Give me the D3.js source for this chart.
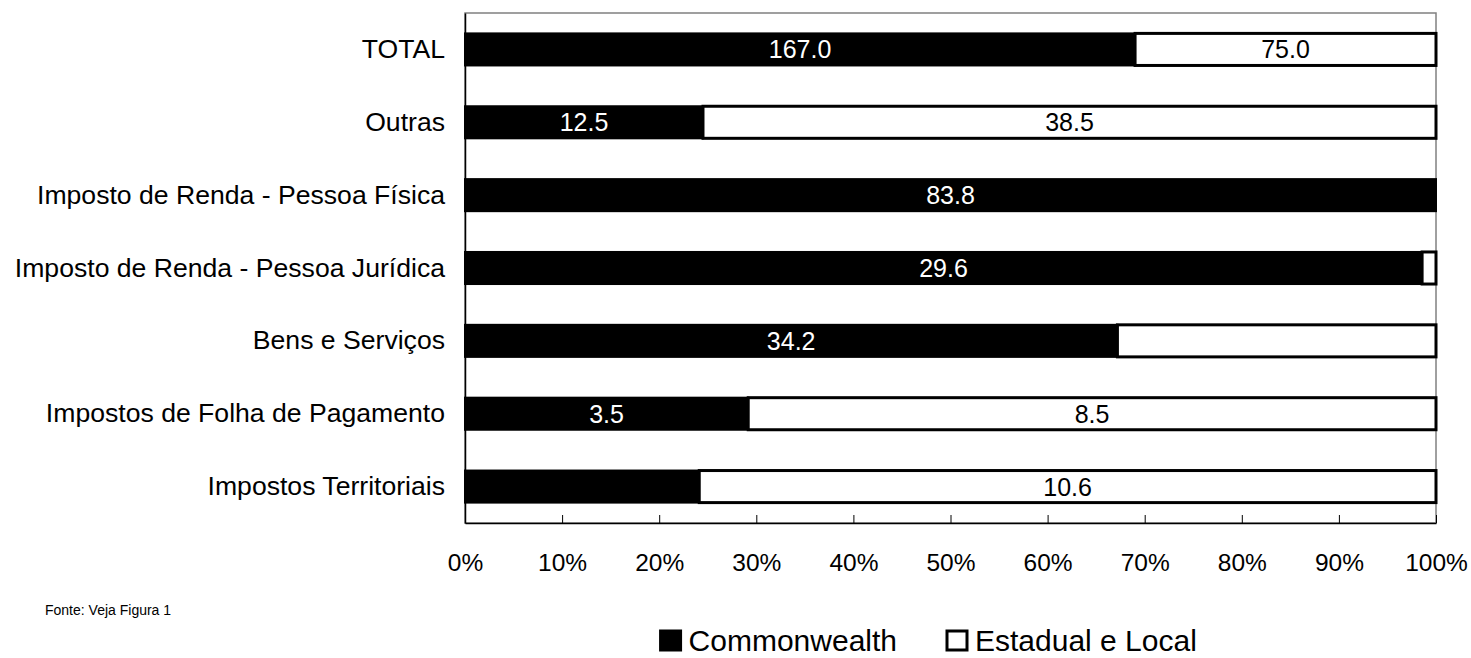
<!DOCTYPE html>
<html>
<head>
<meta charset="utf-8">
<script src="https://cdn.jsdelivr.net/npm/d3@7"></script>
<style>
  body { margin: 0; background: #fff; }
  svg text { font-family: "Liberation Sans", Arial, sans-serif; }
</style>
</head>
<body>
<svg id="chart" width="1471" height="658"></svg>
<script>
// Receita tributária por nível de governo (participação %)
const categories = [
  "TOTAL",
  "Outras",
  "Imposto de Renda - Pessoa Física",
  "Imposto de Renda - Pessoa Jurídica",
  "Bens e Serviços",
  "Impostos de Folha de Pagamento",
  "Impostos Territoriais"
];
const commonwealth = [167.0, 12.5, 83.8, 29.6, 34.2, 3.5, 3.37];
const estadualLocal = [75.0, 38.5, 0.0, 0.43, 16.7, 8.5, 10.6];
// Rótulos exibidos nas barras (null = sem rótulo)
const commonwealthLabels = ["167.0", "12.5", "83.8", "29.6", "34.2", "3.5", null];
const estadualLabels = ["75.0", "38.5", null, null, null, "8.5", "10.6"];
const tickValues = [0, 0.1, 0.2, 0.3, 0.4, 0.5, 0.6, 0.7, 0.8, 0.9, 1.0];
const seriesNames = ["Commonwealth", "Estadual e Local"];

const svg = d3.select("#chart");
const margin = { left: 465, right: 35, top: 13, bottom: 135 };
const W = 1471, H = 658;
const x0 = margin.left, x1 = W - margin.right;
const y0 = margin.top, y1 = H - margin.bottom;

const x = d3.scaleLinear().domain([0, 1]).range([x0, x1]);
const y = d3.scaleBand().domain(categories).range([y0, y1]).paddingInner(0.56).paddingOuter(0.28);

// Moldura da área de plotagem
svg.append("rect")
  .attr("x", x0).attr("y", y0)
  .attr("width", x1 - x0).attr("height", y1 - y0)
  .attr("fill", "none").attr("stroke", "#808080").attr("stroke-width", 1.5);

// Eixo X (percentual)
const tickFont = 24.5;
const xAxis = d3.axisBottom(x)
  .tickValues(tickValues)
  .tickFormat(d3.format(".0%"))
  .tickSizeInner(-8).tickSizeOuter(0).tickPadding(31);
const gx = svg.append("g").attr("transform", `translate(0,${y1})`).call(xAxis);
gx.select(".domain").attr("stroke", "#000").attr("stroke-width", 1.5);
gx.selectAll(".tick line").attr("stroke", "#000").attr("stroke-width", 1);
gx.selectAll(".tick text").attr("font-size", tickFont).attr("fill", "#000")
  .attr("font-family", "Liberation Sans, Arial, sans-serif");

// Eixo Y (categorias)
const yAxis = d3.axisLeft(y).tickSize(0).tickPadding(20);
const gy = svg.append("g").attr("transform", `translate(${x0},0)`).call(yAxis);
gy.select(".domain").attr("stroke", "#000").attr("stroke-width", 1.5);
gy.selectAll(".tick text").attr("font-size", 26.6).attr("fill", "#000")
  .attr("font-family", "Liberation Sans, Arial, sans-serif");

// Dados empilhados normalizados
const rows = categories.map((c, i) => {
  const tot = commonwealth[i] + estadualLocal[i];
  return { cat: c, cw: commonwealth[i] / tot, el: estadualLocal[i] / tot, i };
});

const bars = svg.append("g");
rows.forEach(r => {
  const by = y(r.cat), bh = y.bandwidth();
  // Commonwealth (preto)
  bars.append("rect")
    .attr("x", x(0)).attr("y", by)
    .attr("width", x(r.cw) - x(0)).attr("height", bh)
    .attr("fill", "#000").attr("stroke", "#000").attr("stroke-width", 2);
  // Estadual e Local (branco)
  if (r.el > 0) {
    bars.append("rect")
      .attr("x", x(r.cw)).attr("y", by)
      .attr("width", x(1) - x(r.cw)).attr("height", bh)
      .attr("fill", "#fff").attr("stroke", "#000").attr("stroke-width", 3);
  }
  const cy = by + bh / 2;
  if (commonwealthLabels[r.i]) {
    bars.append("text")
      .attr("x", (x(0) + x(r.cw)) / 2).attr("y", cy)
      .attr("text-anchor", "middle").attr("dominant-baseline", "central")
      .attr("font-size", 25).attr("fill", "#fff")
      .text(commonwealthLabels[r.i]);
  }
  if (estadualLabels[r.i]) {
    bars.append("text")
      .attr("x", (x(r.cw) + x(1)) / 2).attr("y", cy)
      .attr("text-anchor", "middle").attr("dominant-baseline", "central")
      .attr("font-size", 25).attr("fill", "#000")
      .text(estadualLabels[r.i]);
  }
});

// Fonte
svg.append("text")
  .attr("x", 45).attr("y", 615)
  .attr("font-size", 14).attr("fill", "#000")
  .text("Fonte: Veja  Figura 1");

// Legenda
const legendFont = 30;
const legendBase = 651;
const legend = svg.append("g");
const legendItems = [
  { name: seriesNames[0], fill: "#000", textEnd: 897 },
  { name: seriesNames[1], fill: "#fff", textStart: 975 }
];
// Segundo item: quadrado logo antes do texto
legend.append("rect")
  .attr("x", legendItems[1].textStart - 28).attr("y", legendBase - 20)
  .attr("width", 20).attr("height", 19)
  .attr("fill", legendItems[1].fill).attr("stroke", "#000").attr("stroke-width", 3);
legend.append("text")
  .attr("x", legendItems[1].textStart).attr("y", legendBase)
  .attr("font-size", legendFont).attr("fill", "#000")
  .text(legendItems[1].name);
// Primeiro item: posicionado pela extremidade direita do texto
const t1 = legend.append("text")
  .attr("x", legendItems[0].textEnd).attr("y", legendBase)
  .attr("text-anchor", "end")
  .attr("font-size", legendFont).attr("fill", "#000")
  .text(legendItems[0].name);
const w1 = t1.node().getComputedTextLength();
legend.append("rect")
  .attr("x", legendItems[0].textEnd - w1 - 28).attr("y", legendBase - 20)
  .attr("width", 20).attr("height", 19)
  .attr("fill", legendItems[0].fill).attr("stroke", "#000").attr("stroke-width", 3);
</script>
</body>
</html>
